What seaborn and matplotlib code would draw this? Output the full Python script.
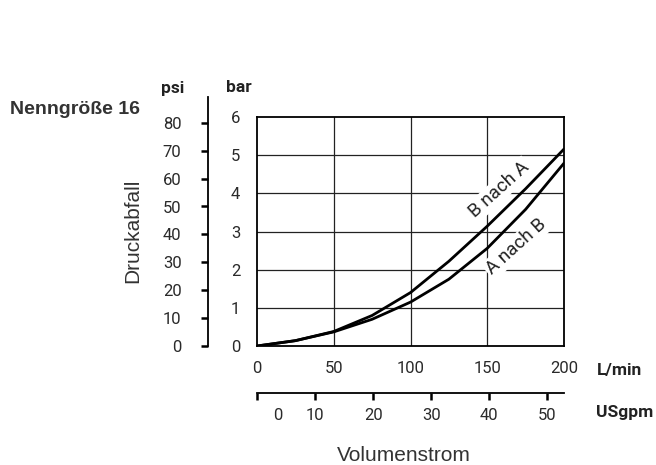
import numpy as np
import pandas as pd
import matplotlib
matplotlib.use("Agg")
import matplotlib.pyplot as plt
import matplotlib.transforms as mtransforms
import seaborn as sns

# values
flow_lmin = [0, 25, 50, 75, 100, 125, 150, 175, 200]
dp_b_to_a = [0, 0.14, 0.38, 0.80, 1.40, 2.22, 3.14, 4.12, 5.16]
dp_a_to_b = [0, 0.14, 0.37, 0.70, 1.15, 1.75, 2.56, 3.58, 4.79]

bar_ticks = [0, 1, 2, 3, 4, 5, 6]
psi_ticks = [0, 10, 20, 30, 40, 50, 60, 70, 80]
lmin_ticks = [0, 50, 100, 150, 200]
gpm_ticks = [0, 10, 20, 30, 40, 50]
LMIN_PER_GPM = 3.785

df = pd.DataFrame({
    "Q": flow_lmin * 2,
    "dp": dp_b_to_a + dp_a_to_b,
    "curve": ["B nach A"] * len(flow_lmin) + ["A nach B"] * len(flow_lmin),
})

sns.set_theme(style="white")
plt.rcParams["font.family"] = ["Roboto", "DejaVu Sans"]

W, H = 656, 465
fig = plt.figure(figsize=(W / 100, H / 100), dpi=100)

def box(x0, y_top, x1, y_bot):
    return [x0 / W, 1 - y_bot / H, (x1 - x0) / W, (y_bot - y_top) / H]

TICK = dict(labelsize=12, labelcolor="#2a2a2a")

# main chart (bar / L/min)
ax = fig.add_axes(box(257, 117, 564, 346))
sns.lineplot(data=df, x="Q", y="dp", hue="curve", palette=["black", "black"],
             linewidth=2, legend=False, ax=ax, sort=False, estimator=None, zorder=3)
ax.set_xlim(0, 200)
ax.set_ylim(0, 6)
ax.set_xticks(lmin_ticks)
ax.set_yticks(bar_ticks)
ax.tick_params(axis="both", length=0, **TICK)
ax.tick_params(axis="y", pad=12)
ax.tick_params(axis="x", pad=11)
ax.set_xlabel("")
ax.set_ylabel("")
for s in ax.spines.values():
    s.set_color("black")
    s.set_linewidth(1.3)
for v in [50, 100, 150]:
    ax.axvline(v, color="#222", lw=0.9, zorder=0)
for h in [1, 2, 3, 4, 5]:
    ax.axhline(h, color="#222", lw=0.9, zorder=0)

lbl = dict(rotation=42, ha="center", va="center", fontsize=13.5, color="#222",
           rotation_mode="anchor", zorder=2,
           bbox=dict(boxstyle="square,pad=0.1", fc="white", ec="none"))
ax.text(158, 4.1, "B nach A", **lbl)
ax.text(169, 2.6, "A nach B", **lbl)

# psi scale
axp = fig.add_axes(box(208, 97, 209, 346))
axp.set_ylim(0, 249 / 2.79)
axp.set_yticks(psi_ticks)
axp.set_xticks([])
for k in ["top", "right", "bottom"]:
    axp.spines[k].set_visible(False)
axp.spines["left"].set_linewidth(1.3)
axp.spines["left"].set_color("black")
axp.tick_params(axis="y", direction="out", length=5, width=1.8, color="black",
                pad=14, left=True, **TICK)
axp.patch.set_alpha(0)

# USgpm scale
axg = fig.add_axes(box(257, 392, 564, 393))
axg.set_xlim(0, 200 / LMIN_PER_GPM)
axg.set_xticks(gpm_ticks)
axg.set_yticks([])
for k in ["top", "right", "left"]:
    axg.spines[k].set_visible(False)
axg.spines["bottom"].set_linewidth(1.3)
axg.spines["bottom"].set_color("black")
axg.tick_params(axis="x", direction="out", length=5, width=1.8, color="black",
                pad=6, bottom=True, **TICK)
axg.patch.set_alpha(0)
first = axg.get_xticklabels()[0]
first.set_transform(first.get_transform() + mtransforms.ScaledTranslation(21 / 100, 0, fig.dpi_scale_trans))

# texts
bold = dict(fontweight="bold", color="#222", fontsize=12.5)
fig.text(173 / W, 1 - 88 / H, "psi", ha="center", va="center", **bold)
fig.text(239 / W, 1 - 88 / H, "bar", ha="center", va="center", **bold)
fig.text(642 / W, 1 - 370 / H, "L/min", ha="right", va="center", **bold)
fig.text(653 / W, 1 - 412 / H, "USgpm", ha="right", va="center", **bold)
fig.text(10 / W, 1 - 110 / H, "Nenngröße 16", ha="left", va="center",
         fontweight="bold", color="#333", fontsize=14, family=["Liberation Sans", "DejaVu Sans"])
fig.text(404 / W, 1 - 455 / H, "Volumenstrom", ha="center", va="center",
         fontsize=15, color="#333", family=["Liberation Sans", "DejaVu Sans"])
fig.text(133 / W, 1 - 231 / H, "Druckabfall", ha="center", va="center",
         rotation=90, fontsize=15, color="#333", family=["Liberation Sans", "DejaVu Sans"])

fig.savefig("out.png", dpi=100)
